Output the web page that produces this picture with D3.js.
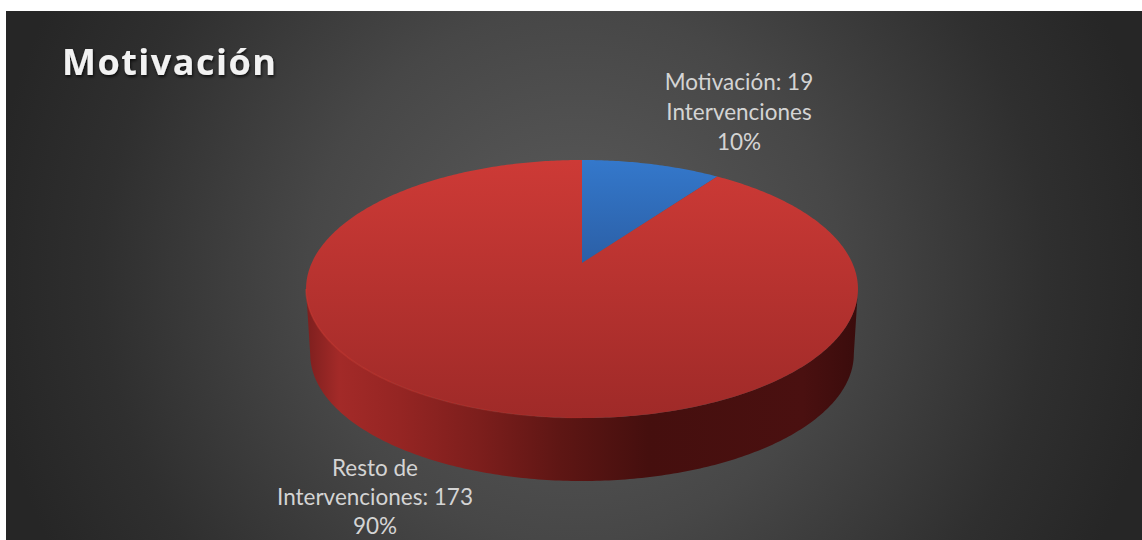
<!DOCTYPE html>
<html lang="es">
<head>
<meta charset="utf-8">
<script src="https://cdn.jsdelivr.net/npm/d3@7"></script>
<style>
  html, body { margin: 0; padding: 0; background: #fff; }
  svg { display: block; }
</style>
</head>
<body>
<script>
// Chart content
const chartTitle = "Motivación";
const categories = ["Motivación", "Resto de Intervenciones"];
const values = [19, 173];
const labelLines = [
  ["Motivación: 19", "Intervenciones"],
  ["Resto de", "Intervenciones: 173"]
];
const labelAnchors = [[739, 90], [375, 476]];
const sliceColors = [["#3478cb", "#2b5fa6"], ["#cd3a36", "#9f2a28"]];
const wallStops = [
  [0, "#7d1f1e"], [0.06, "#a32a28"], [0.17, "#952523"], [0.315, "#7c1e1c"],
  [0.46, "#5e1614"], [0.62, "#450f0e"], [0.9, "#4a1010"], [1, "#3a0c0c"]
];

const width = 1142, height = 540;
const svg = d3.select("body").append("svg").attr("width", width).attr("height", height);
const defs = svg.append("defs");

// Backdrop: radial falloff from mid grey to charcoal
const bg = defs.append("radialGradient").attr("id", "backdrop")
  .attr("gradientUnits", "userSpaceOnUse")
  .attr("cx", 574).attr("cy", 275).attr("r", 590);
[[0, "#5c5c5c"], [0.45, "#474747"], [0.8, "#2f2f2f"], [1, "#262626"]].forEach(([o, c]) =>
  bg.append("stop").attr("offset", o).attr("stop-color", c));
svg.append("rect").attr("x", 6).attr("y", 11).attr("width", width - 6).attr("height", height - 11)
  .attr("fill", "url(#backdrop)");

const titleShadow = defs.append("filter").attr("id", "titleShadow")
  .attr("x", "-5%").attr("y", "-20%").attr("width", "110%").attr("height", "150%");
titleShadow.append("feDropShadow").attr("dx", 1).attr("dy", 2).attr("stdDeviation", 1.5)
  .attr("flood-color", "#000").attr("flood-opacity", 0.7);

// Tilted disc: a unit circle seen in perspective, so the near half looks larger
const hub = { x: 582, y: 263 };
const tilt = { k: 0.2016, rx: 270.3, ry: 123.8 };
const project = (angle, scale = 1, drop = 0) => {
  const X = Math.sin(angle), Y = Math.cos(angle), w = 1 + tilt.k * Y;
  return [hub.x + scale * tilt.rx * X / w, hub.y + drop - scale * tilt.ry * Y / w];
};
const rim = (a0, a1, scale, drop) => {
  const n = Math.max(2, Math.ceil(Math.abs(a1 - a0) * 80));
  return d3.range(n + 1).map(i => project(a0 + (a1 - a0) * i / n, scale, drop));
};
const path = d3.line();
const base = { scale: 0.985, drop: 65.3 };

// Side wall along the front of the disc
const wallGrad = defs.append("linearGradient").attr("id", "wall")
  .attr("gradientUnits", "userSpaceOnUse")
  .attr("x1", 306).attr("x2", 858).attr("y1", 0).attr("y2", 0);
wallStops.forEach(([o, c]) => wallGrad.append("stop").attr("offset", o).attr("stop-color", c));
const edge = Math.acos(-tilt.k);
const wallOutline = rim(edge, 2 * Math.PI - edge, 1, 0)
  .concat(rim(2 * Math.PI - edge, edge, base.scale, base.drop));
svg.append("path").attr("d", path(wallOutline) + "Z").attr("fill", "url(#wall)");

// Top face slices
const pie = d3.pie().sort(null).startAngle(0).endAngle(2 * Math.PI);
const arcs = pie(values);
arcs.forEach((d, i) => {
  const g = defs.append("linearGradient").attr("id", "slice" + i)
    .attr("gradientUnits", "userSpaceOnUse")
    .attr("x1", 0).attr("x2", 0).attr("y1", 160).attr("y2", i === 0 ? 263 : 418);
  g.append("stop").attr("offset", 0).attr("stop-color", sliceColors[i][0]);
  g.append("stop").attr("offset", 1).attr("stop-color", sliceColors[i][1]);
  const outline = [[hub.x, hub.y]].concat(rim(d.startAngle, d.endAngle, 1, 0));
  svg.append("path").attr("d", path(outline) + "Z").attr("fill", `url(#slice${i})`);
});

// Bevel highlight on the front-left rim of the top face, fading towards the middle
const bevel = defs.append("linearGradient").attr("id", "bevel")
  .attr("gradientUnits", "userSpaceOnUse")
  .attr("x1", 306).attr("x2", 640).attr("y1", 0).attr("y2", 0);
bevel.append("stop").attr("offset", 0).attr("stop-color", "#d8362c").attr("stop-opacity", 0.45);
bevel.append("stop").attr("offset", 1).attr("stop-color", "#d8362c").attr("stop-opacity", 0);
svg.append("path").attr("d", path(rim(Math.PI, 2 * Math.PI - edge, 1, 0))).attr("fill", "none")
  .attr("stroke", "url(#bevel)").attr("stroke-width", 1.5);

// Title
svg.append("text").attr("x", 62).attr("y", 75)
  .attr("font-family", "'Open Sans', sans-serif").attr("font-weight", 700)
  .attr("font-size", 36).attr("letter-spacing", 1.5).attr("fill", "#f2f2f2")
  .attr("filter", "url(#titleShadow)").text(chartTitle);

// Data labels: category lines, then the share of the total
const total = d3.sum(values);
const labels = svg.append("g").attr("font-family", "Lato, sans-serif").attr("font-size", 22.5)
  .attr("fill", "#d4d4d4").attr("text-anchor", "middle");
values.forEach((v, i) => {
  const lines = labelLines[i].concat(d3.format(".0%")(v / total));
  const [x, y] = labelAnchors[i];
  const lead = i === 1 ? 29 : 30;
  lines.forEach((t, j) => labels.append("text").attr("x", x).attr("y", y + j * lead).text(t));
});
</script>
</body>
</html>
